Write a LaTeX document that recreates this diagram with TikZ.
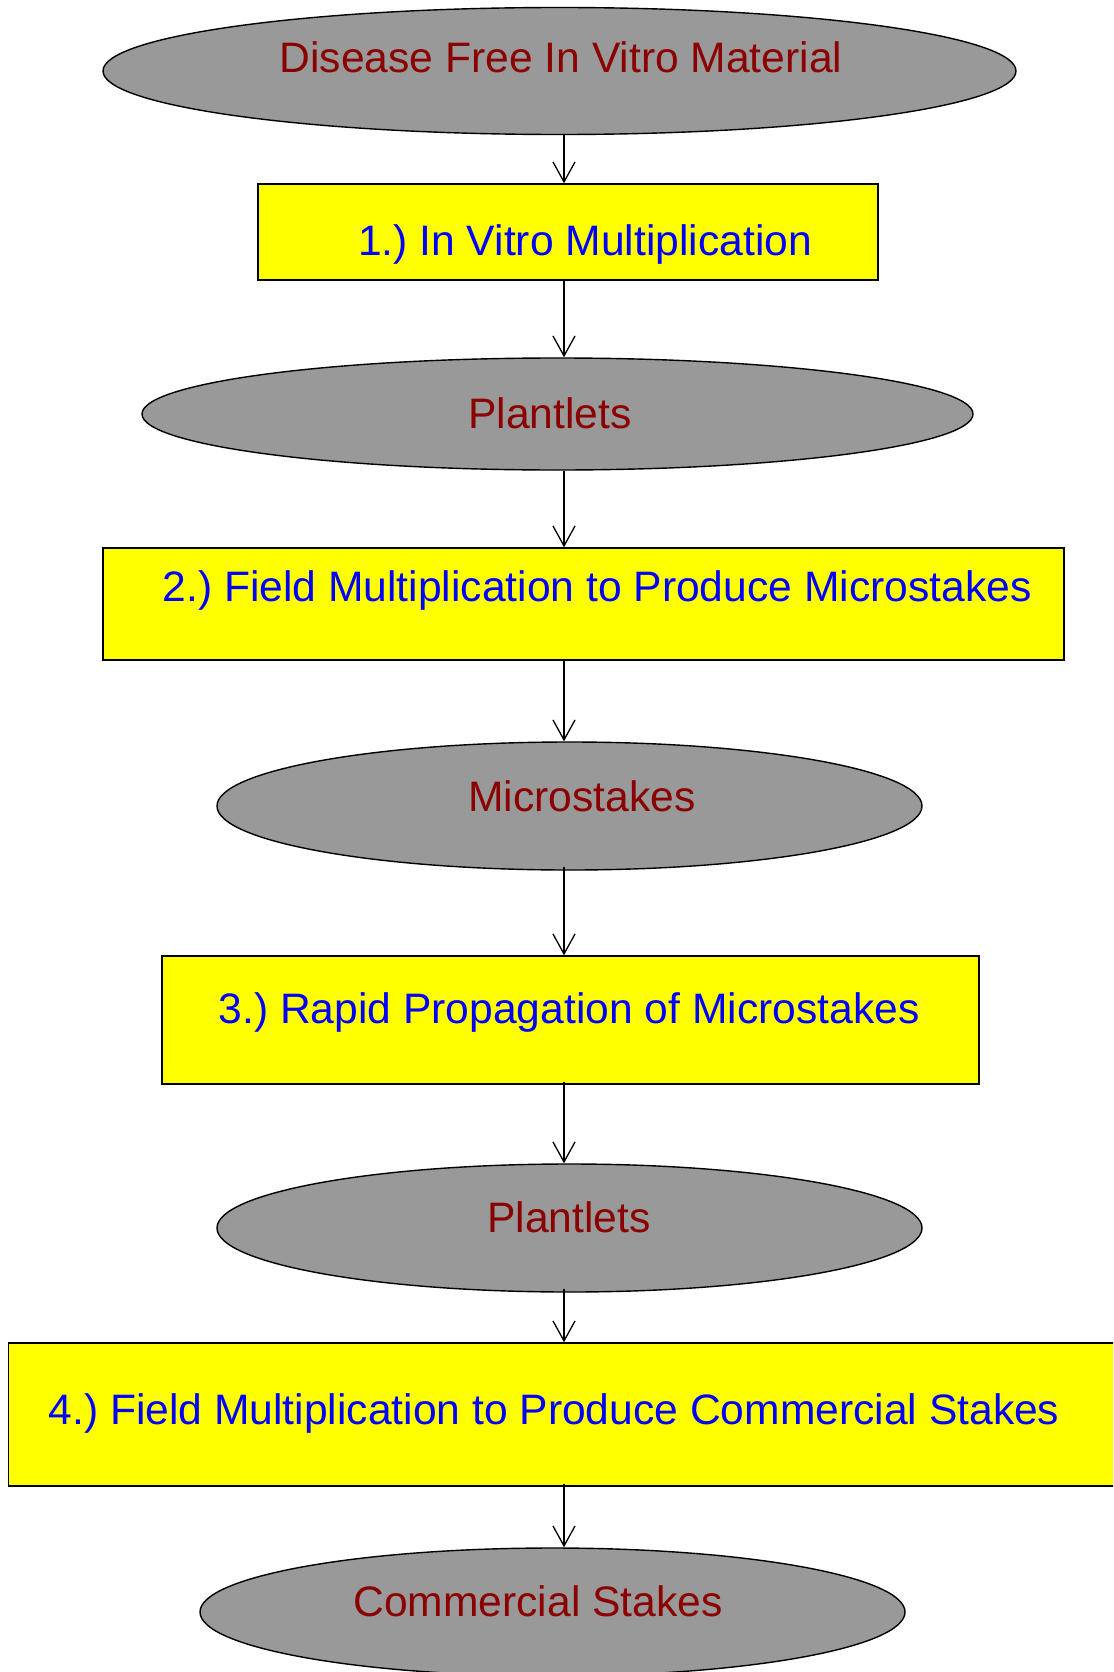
\documentclass[tikz,border=0pt]{standalone}
\usepackage{fontspec}
\setmainfont{Liberation Sans}
\usetikzlibrary{shapes.geometric,arrows.meta}
\frenchspacing
\definecolor{shapegrey}{HTML}{999999}
\definecolor{ovaltext}{HTML}{8B0000}
\definecolor{boxtext}{HTML}{0000FF}
\definecolor{boxfill}{HTML}{FFFF00}
\tikzset{
  oval/.style={ellipse, draw=black, line width=1.4pt, fill=shapegrey, inner sep=0pt},
  stepbox/.style={rectangle, draw=black, line width=1.4pt, fill=boxfill, inner sep=0pt},
  ovallabel/.style={anchor=base, inner sep=0pt, text=ovaltext, font=\fontsize{42.6}{48}\selectfont},
  boxlabel/.style={anchor=base, inner sep=0pt, text=boxtext, font=\fontsize{42.6}{48}\selectfont},
  arr/.style={draw=black, line width=1.3pt, -{Straight Barb[length=20pt,width=22pt,line width=1.3pt]}}
}
\begin{document}
\begin{tikzpicture}[x=1pt,y=-1pt]
\useasboundingbox (0,0) rectangle (1113,1672);
\clip (0,0) rectangle (1113,1672);
\fill[white] (0,0) rectangle (1113,1672);
\coordinate (ax) at (564,0);
% shapes
\node[oval, minimum width=913pt, minimum height=127pt] (e1) at (559.5,71) {};
\node[stepbox, minimum width=620pt, minimum height=96pt] (b1) at (568,232) {};
\node[oval, minimum width=831pt, minimum height=112pt] (e2) at (557.5,414) {};
\node[stepbox, minimum width=961pt, minimum height=112pt] (b2) at (583.5,604) {};
\node[oval, minimum width=705pt, minimum height=128pt] (e3) at (569.5,806) {};
\node[stepbox, minimum width=817pt, minimum height=128pt] (b3) at (570.5,1020) {};
\node[oval, minimum width=705pt, minimum height=128pt] (e4) at (569.5,1228) {};
\node[stepbox, minimum width=1122pt, minimum height=143pt] (b4) at (569.5,1414.5) {};
\node[oval, minimum width=705pt, minimum height=128pt] (e5) at (552.5,1612) {};
% labels
\node[ovallabel] (t1) at (561,73) {Disease Free In Vitro Material};
\node[boxlabel] (t2) at (585,255) {1.) In Vitro Multiplication};
\node[ovallabel] (t3) at (550,428) {Plantlets};
\node[boxlabel] (t4) at (597,601) {2.) Field Multiplication to Produce Microstakes};
\node[ovallabel] (t5) at (582,811) {Microstakes};
\node[boxlabel] (t6) at (569,1023) {3.) Rapid Propagation of Microstakes};
\node[ovallabel] (t7) at (569,1232) {Plantlets};
\node[boxlabel] (t8) at (554,1424) {4.) Field Multiplication to Produce Commercial Stakes};
\node[ovallabel] (t9) at (538,1616) {Commercial Stakes};
% connectors
\draw[arr] (e1.south -| ax) -- (b1.north -| ax);
\draw[arr] (b1.south -| ax) -- (e2.north -| ax);
\draw[arr] (e2.south -| ax) -- (b2.north -| ax);
\draw[arr] (b2.south -| ax) -- (e3.north -| ax);
\draw[arr] ([yshift=4pt]e3.south -| ax) -- (b3.north -| ax);
\draw[arr] ([yshift=3pt]b3.south -| ax) -- (e4.north -| ax);
\draw[arr] ([yshift=4pt]e4.south -| ax) -- (b4.north -| ax);
\draw[arr] ([yshift=3pt]b4.south -| ax) -- (e5.north -| ax);
\end{tikzpicture}
\end{document}
